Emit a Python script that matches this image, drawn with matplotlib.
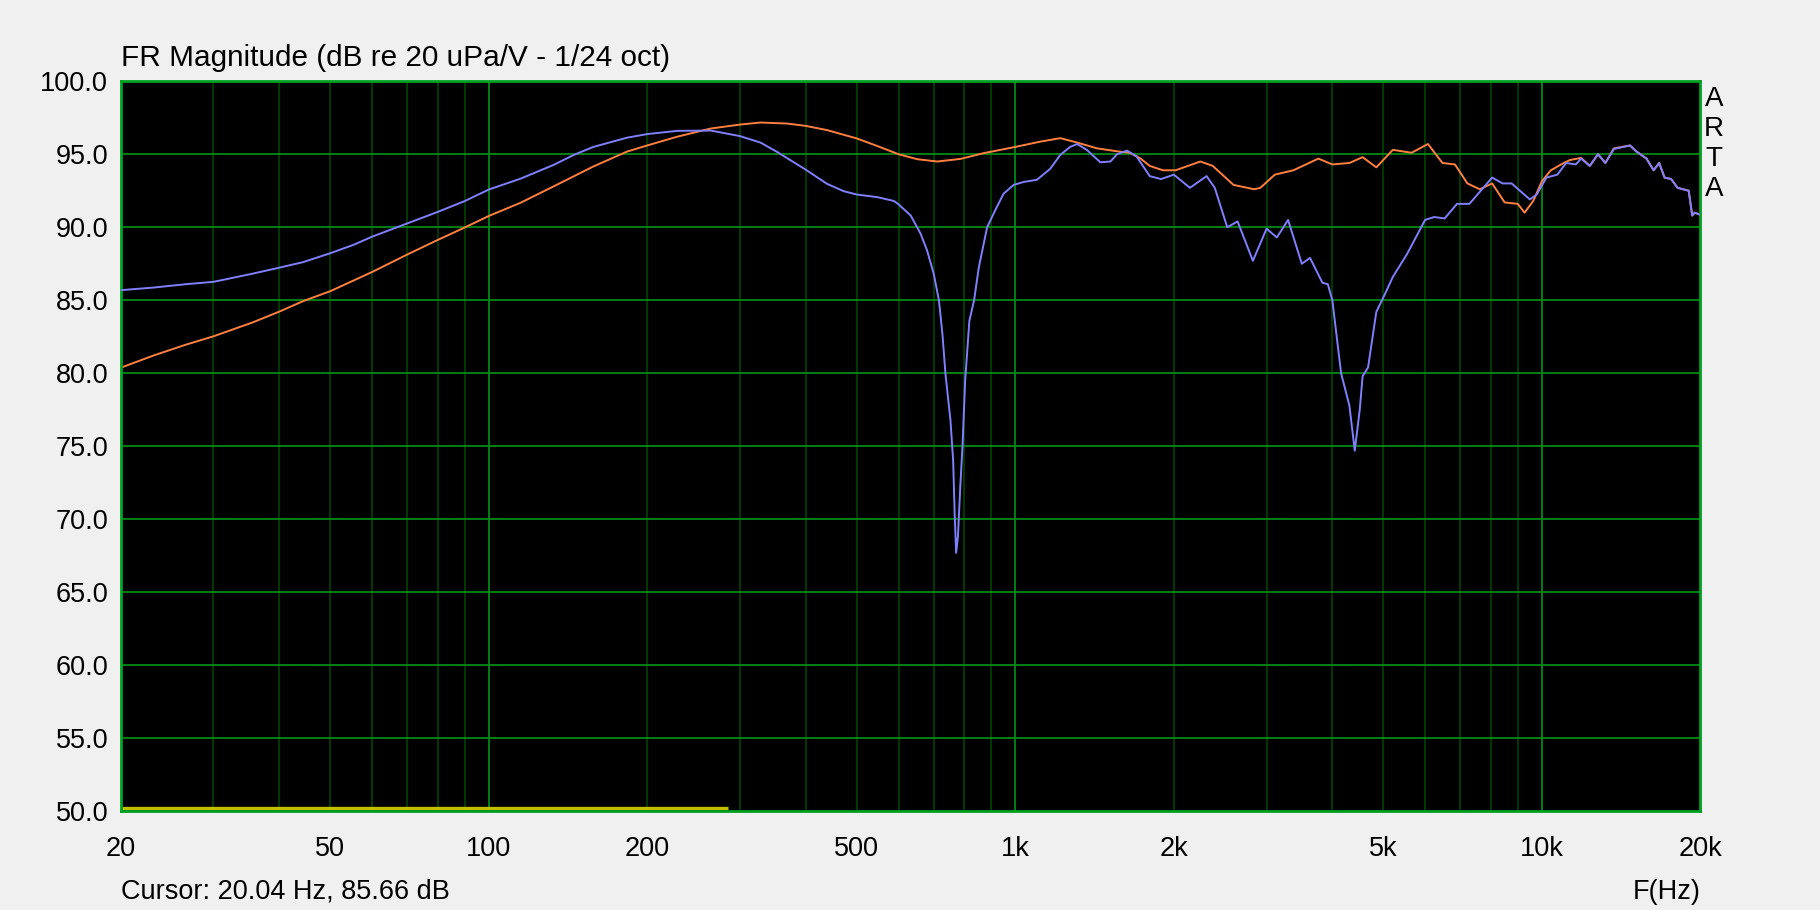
import matplotlib.pyplot as plt

plt.rcParams['font.family'] = ['Liberation Sans', 'DejaVu Sans']

# trace 1 (blue)
blue_freq = [20, 23.1, 26.6, 30, 35.6, 40, 44.4, 50, 55.5, 60, 70, 80, 90, 100,
             115, 133, 145, 158, 183, 200, 228, 264, 300, 328, 352, 400, 439, 472,
             500, 547, 588, 600, 633, 661, 680, 700, 716, 727, 737, 753, 762, 767,
             772, 778, 786, 794, 803, 818, 835, 852, 884, 917, 950, 993, 1037,
             1099, 1165, 1217, 1271, 1310, 1367, 1450, 1516, 1560, 1630, 1700,
             1800, 1891, 2000, 2146, 2308, 2392, 2526, 2643, 2826, 3000, 3138,
             3296, 3500, 3628, 3830, 3922, 4000, 4156, 4309, 4412, 4509, 4566,
             4676, 4848, 5000, 5212, 5552, 6000, 6246, 6536, 6898, 7283, 8046,
             8421, 8760, 9490, 9780, 10200, 10700, 11120, 11600, 11870, 12330,
             12780, 13200, 13700, 14700, 15100, 15800, 16300, 16700, 17100,
             17600, 18100, 19000, 19300, 19500, 20000]
blue_db = [85.69, 85.87, 86.10, 86.26, 86.82, 87.23, 87.61, 88.22, 88.81, 89.35,
           90.26, 91.05, 91.79, 92.58, 93.33, 94.28, 94.95, 95.50, 96.13, 96.38,
           96.60, 96.62, 96.24, 95.80, 95.18, 93.94, 92.97, 92.47, 92.24, 92.06,
           91.80, 91.57, 90.80, 89.55, 88.40, 86.80, 85.00, 82.70, 79.90, 76.80,
           74.00, 70.40, 67.70, 68.80, 72.20, 75.10, 79.50, 83.60, 85.00, 87.20,
           90.00, 91.20, 92.30, 92.90, 93.10, 93.25, 94.00, 94.95, 95.50, 95.70,
           95.30, 94.45, 94.50, 95.00, 95.25, 94.84, 93.50, 93.30, 93.60, 92.70,
           93.50, 92.70, 90.00, 90.40, 87.70, 89.90, 89.30, 90.50, 87.50, 87.90,
           86.20, 86.10, 85.00, 80.00, 77.80, 74.70, 77.50, 79.80, 80.40, 84.20,
           85.20, 86.60, 88.20, 90.50, 90.70, 90.60, 91.60, 91.60, 93.40, 93.00,
           93.00, 91.90, 92.25, 93.40, 93.60, 94.40, 94.30, 94.70, 94.20, 95.00,
           94.40, 95.36, 95.60, 95.20, 94.70, 93.90, 94.40, 93.40, 93.30, 92.70,
           92.50, 90.80, 91.00, 90.85]

# trace 2 (orange)
orange_freq = [20, 23.1, 26.6, 30, 35.6, 40, 44.4, 50, 55.5, 60, 70, 80, 90, 100,
               115, 133, 158, 183, 200, 228, 264, 300, 328, 369, 400, 439, 500,
               547, 600, 651, 711, 787, 870, 1000, 1115, 1217, 1310, 1430, 1560,
               1650, 1730, 1800, 1907, 2015, 2246, 2371, 2596, 2842, 2920, 3110,
               3374, 3763, 4000, 4309, 4566, 4848, 5212, 5655, 6076, 6474, 6838,
               7220, 7622, 8046, 8497, 9000, 9270, 9630, 10000, 10400, 11000,
               11300, 11870, 12330, 12780, 13200, 13700, 14700, 15100, 15800,
               16300, 16700, 17100, 17600, 18100, 19000, 19300, 19500, 20000]
orange_db = [80.38, 81.22, 81.96, 82.53, 83.48, 84.22, 84.94, 85.62, 86.37, 86.93,
             88.13, 89.13, 89.98, 90.77, 91.68, 92.81, 94.16, 95.18, 95.60, 96.20,
             96.76, 97.03, 97.17, 97.10, 96.94, 96.65, 96.08, 95.56, 95.00, 94.66,
             94.50, 94.68, 95.07, 95.50, 95.86, 96.10, 95.80, 95.40, 95.20, 95.10,
             94.70, 94.20, 93.90, 93.90, 94.50, 94.20, 92.90, 92.60, 92.70, 93.60,
             93.90, 94.70, 94.30, 94.40, 94.80, 94.10, 95.30, 95.10, 95.70, 94.40,
             94.30, 93.00, 92.60, 93.00, 91.70, 91.60, 91.00, 91.80, 93.15, 93.90,
             94.40, 94.60, 94.75, 94.20, 95.00, 94.40, 95.40, 95.60, 95.20, 94.70,
             93.90, 94.40, 93.40, 93.30, 92.70, 92.50, 90.80, 91.00, 90.85]

# yellow marker trace at the bottom
yellow_freq = [20, 285]
yellow_db = [50.25, 50.25]

xticks = [20, 50, 100, 200, 500, 1000, 2000, 5000, 10000, 20000]
xlabels = ['20', '50', '100', '200', '500', '1k', '2k', '5k', '10k', '20k']
yticks = [50, 55, 60, 65, 70, 75, 80, 85, 90, 95, 100]
major_vlines = [100, 1000, 10000]
minor_vlines = [30, 40, 50, 60, 70, 80, 90, 200, 300, 400, 500, 600, 700, 800, 900,
                2000, 3000, 4000, 5000, 6000, 7000, 8000, 9000]

W, H = 1820, 910
fig = plt.figure(figsize=(18.2, 9.1), dpi=100, facecolor='#f0f0f0')
left, right, top, bottom = 120.7, 1700.4, 81.2, 811.4
ax = fig.add_axes([left / W, 1 - bottom / H, (right - left) / W, (bottom - top) / H])
ax.set_facecolor('black')
ax.set_xscale('log')
ax.set_xlim(20, 20000)
ax.set_ylim(50, 100)

for f in minor_vlines:
    ax.axvline(f, color='#003f00', lw=1.3, zorder=0.5)
for f in major_vlines:
    ax.axvline(f, color='#008a14', lw=1.3, zorder=0.6)
for y in yticks[1:-1]:
    ax.axhline(y, color='#008a14', lw=1.3, zorder=0.6)

ax.plot(yellow_freq, yellow_db, color='#c0c000', lw=2.4, zorder=1.5, solid_capstyle='butt')
ax.plot(orange_freq, orange_db, color='#ff8040', lw=1.4, zorder=2)
ax.plot(blue_freq, blue_db, color='#8080ff', lw=1.4, zorder=3)

for s in ax.spines.values():
    s.set_color('#00a020')
    s.set_linewidth(2.0)

ax.set_xticks(xticks)
ax.set_xticklabels(xlabels)
ax.xaxis.set_minor_locator(plt.NullLocator())
ax.set_yticks(yticks)
ax.set_yticklabels([f'{v:.1f}' for v in yticks])
ax.tick_params(axis='both', length=0, labelsize=19.5, colors='black')
ax.tick_params(axis='x', pad=17.5)
ax.tick_params(axis='y', pad=9)

fig.text(left / W, 1 - 66 / H, 'FR Magnitude (dB re 20 uPa/V - 1/24 oct)',
         fontsize=21.4, va='baseline', ha='left')
fig.text(left / W, 1 - 899 / H, 'Cursor: 20.04 Hz, 85.66 dB',
         fontsize=19.5, va='baseline', ha='left')
fig.text(right / W, 1 - 899 / H, 'F(Hz)', fontsize=19.5, va='baseline', ha='right')
for i, ch in enumerate('ARTA'):
    fig.text(1714 / W, 1 - (106 + i * 30) / H, ch, fontsize=20,
             va='baseline', ha='center')

fig.savefig('out.png', dpi=100, facecolor=fig.get_facecolor())
